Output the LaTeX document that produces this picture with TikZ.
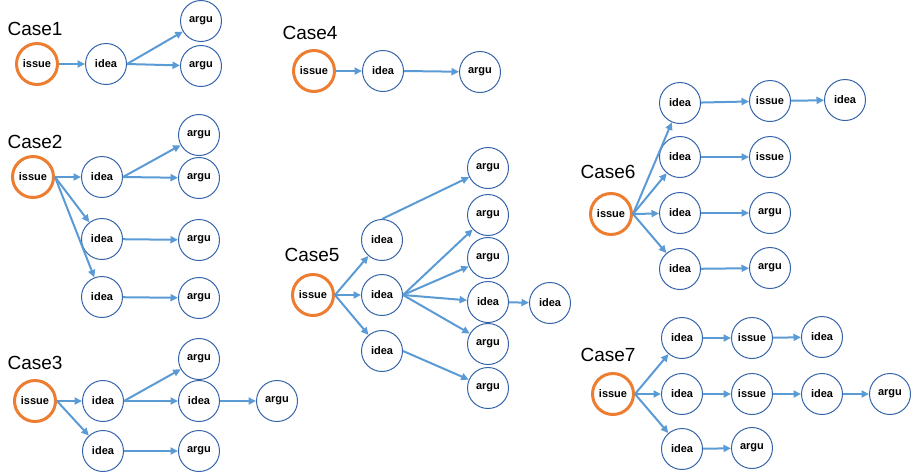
\documentclass[tikz,border=0pt]{standalone}
\usepackage{fontspec}
\setmainfont{Liberation Sans}
\usetikzlibrary{arrows.meta}
\definecolor{nodeblue}{HTML}{3564A8}
\definecolor{arrowblue}{HTML}{5B9BD5}
\definecolor{rootorange}{HTML}{ED7D31}
\begin{document}
\begin{tikzpicture}[x=1pt,y=-1pt,
  nd/.style={circle,draw=nodeblue,line width=1pt,minimum size=41pt,inner sep=0pt,font=\fontsize{11}{13}\selectfont\bfseries},
  root/.style={nd,draw=rootorange,line width=3pt},
  lbl/.style={font=\fontsize{19}{22}\selectfont,inner sep=0pt},
  ar/.style={draw=arrowblue,line width=2pt,-{Triangle[length=7.5pt,width=7pt]}}]
\useasboundingbox (0,0) rectangle (917,475);
% Case1
\node[lbl] (L1) at (35,29) {Case1};
\node[root] (c1i) at (37,64) {issue};
\node[nd] (c1d) at (106,64) {idea};
\node[nd] (c1a1) at (201,21) {argu};
\node[nd] (c1a2) at (201,66) {argu};
\draw[ar] (c1i) -- (c1d);
\draw[ar] (c1d.east) -- (c1a1);
\draw[ar] (c1d.east) -- (c1a2);
% Case2
\node[lbl] (L2) at (35,142) {Case2};
\node[root] (c2i) at (33,177) {issue};
\node[nd] (c2d1) at (102,177) {idea};
\node[nd] (c2d2) at (102,239) {idea};
\node[nd] (c2d3) at (102,297) {idea};
\node[nd] (c2a1) at (199,135) {argu};
\node[nd] (c2a2) at (199,178) {argu};
\node[nd] (c2a3) at (199,240) {argu};
\node[nd] (c2a4) at (199,298) {argu};
\draw[ar] (c2i.east) -- (c2d1);
\draw[ar] (c2i.east) -- (c2d2);
\draw[ar] (c2i.east) -- (c2d3);
\draw[ar] (c2d1.east) -- (c2a1);
\draw[ar] (c2d1.east) -- (c2a2);
\draw[ar] (c2d2) -- (c2a3);
\draw[ar] (c2d3) -- (c2a4);
% Case3
\node[lbl] (L3) at (35,363) {Case3};
\node[root] (c3i) at (35,401) {issue};
\node[nd] (c3d1) at (103,401) {idea};
\node[nd] (c3d2) at (103,451) {idea};
\node[nd] (c3a1) at (199,359) {argu};
\node[nd] (c3d3) at (199,401) {idea};
\node[nd] (c3a2) at (277,401) {argu};
\node[nd] (c3a3) at (199,451) {argu};
\draw[ar] (c3i) -- (c3d1);
\draw[ar] (c3i.east) -- (c3d2);
\draw[ar] (c3d1.east) -- (c3a1);
\draw[ar] (c3d1) -- (c3d3);
\draw[ar] (c3d3) -- (c3a2);
\draw[ar] (c3d2) -- (c3a3);
% Case4
\node[lbl] (L4) at (310,33) {Case4};
\node[root] (c4i) at (314,71) {issue};
\node[nd] (c4d) at (383,71) {idea};
\node[nd] (c4a) at (480,72) {argu};
\draw[ar] (c4i) -- (c4d);
\draw[ar] (c4d.east) -- (c4a);
% Case5
\node[lbl] (L5) at (312,255) {Case5};
\node[root] (c5i) at (313,295) {issue};
\node[nd] (c5d1) at (382,240) {idea};
\node[nd] (c5d2) at (382,295) {idea};
\node[nd] (c5d3) at (382,351) {idea};
\node[nd] (c5a1) at (488,168) {argu};
\node[nd] (c5a2) at (488,215) {argu};
\node[nd] (c5a3) at (488,258) {argu};
\node[nd] (c5e) at (488,302) {idea};
\node[nd] (c5a4) at (488,344) {argu};
\node[nd] (c5a5) at (488,388) {argu};
\node[nd] (c5f) at (550,303) {idea};
\draw[ar] (c5i.east) -- (c5d1);
\draw[ar] (c5i) -- (c5d2);
\draw[ar] (c5i.east) -- (c5d3);
\draw[ar] (c5d1.north) -- (c5a1);
\draw[ar] (c5d2.east) -- (c5a2);
\draw[ar] (c5d2.east) -- (c5a3);
\draw[ar] (c5d2.east) -- (c5e);
\draw[ar] (c5d2.east) -- (c5a4);
\draw[ar] (c5d3.east) -- (c5a5);
\draw[ar] (c5e) -- (c5f);
% Case6
\node[lbl] (L6) at (608,172) {Case6};
\node[root] (c6i) at (611,214) {issue};
\node[nd] (c6d1) at (680,103) {idea};
\node[nd] (c6d2) at (680,157) {idea};
\node[nd] (c6d3) at (680,213) {idea};
\node[nd] (c6d4) at (680,269) {idea};
\node[nd] (c6s1) at (770,101) {issue};
\node[nd] (c6s2) at (770,157) {issue};
\node[nd] (c6a1) at (770,213) {argu};
\node[nd] (c6a2) at (770,268) {argu};
\node[nd] (c6e) at (845,100) {idea};
\draw[ar] (c6i.east) -- (c6d1);
\draw[ar] (c6i.east) -- (c6d2);
\draw[ar] (c6i.east) -- (c6d3);
\draw[ar] (c6i.east) -- (c6d4);
\draw[ar] (c6d1) -- (c6s1);
\draw[ar] (c6d2) -- (c6s2);
\draw[ar] (c6d3) -- (c6a1);
\draw[ar] (c6d4) -- (c6a2);
\draw[ar] (c6s1) -- (c6e);
% Case7
\node[lbl] (L7) at (608,355) {Case7};
\node[root] (c7i) at (613,394) {issue};
\node[nd] (c7d1) at (682,338) {idea};
\node[nd] (c7d2) at (682,394) {idea};
\node[nd] (c7d3) at (682,449) {idea};
\node[nd] (c7s1) at (752,338) {issue};
\node[nd] (c7s2) at (752,394) {issue};
\node[nd] (c7a1) at (752,448) {argu};
\node[nd] (c7e1) at (822,337) {idea};
\node[nd] (c7e2) at (822,394) {idea};
\node[nd] (c7a2) at (890,394) {argu};
\draw[ar] (c7i.east) -- (c7d1);
\draw[ar] (c7i) -- (c7d2);
\draw[ar] (c7i.east) -- (c7d3);
\draw[ar] (c7d1) -- (c7s1);
\draw[ar] (c7s1) -- (c7e1);
\draw[ar] (c7d2) -- (c7s2);
\draw[ar] (c7s2) -- (c7e2);
\draw[ar] (c7e2) -- (c7a2);
\draw[ar] (c7d3) -- (c7a1);
\end{tikzpicture}
\end{document}
